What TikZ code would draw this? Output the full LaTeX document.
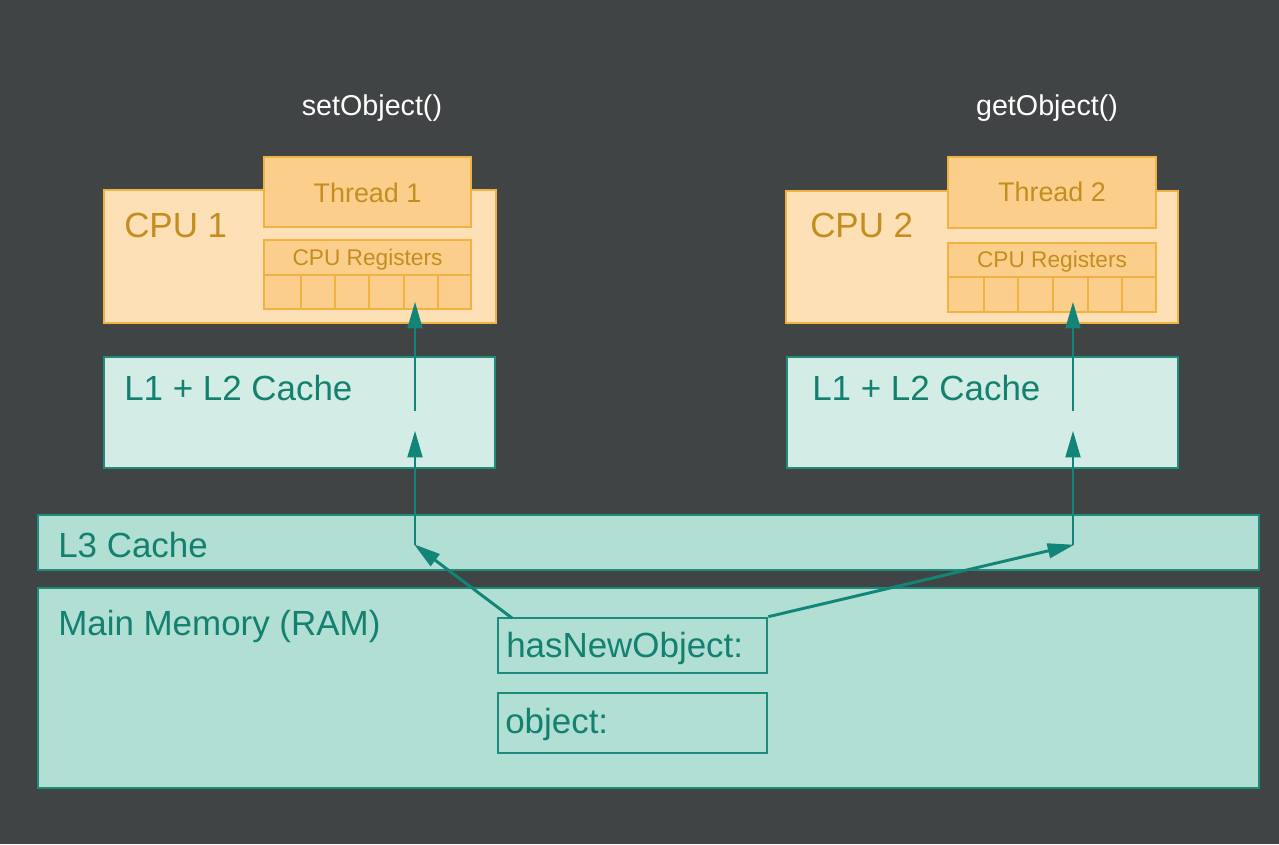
\documentclass[tikz,border=0pt]{standalone}
\usepackage{fontspec}
\setmainfont{Liberation Sans}
\usetikzlibrary{fit,arrows.meta}
\definecolor{bgc}{RGB}{64,68,68}
\definecolor{cpufill}{RGB}{253,224,182}
\definecolor{cpuline}{RGB}{240,178,64}
\definecolor{thrfill}{RGB}{252,206,140}
\definecolor{cputext}{RGB}{196,142,30}
\definecolor{cachefill}{RGB}{211,236,230}
\definecolor{memfill}{RGB}{177,223,212}
\definecolor{tealline}{RGB}{30,140,124}
\definecolor{tealtext}{RGB}{20,128,112}
\definecolor{arrowc}{RGB}{18,133,120}
\tikzset{
  cpubox/.style={draw=cpuline, fill=cpufill, line width=2pt, inner sep=0pt},
  thrbox/.style={draw=cpuline, fill=thrfill, line width=2pt, inner sep=0pt},
  cellbox/.style={draw=cpuline, fill=thrfill, line width=1.6pt, inner sep=0pt},
  cachebox/.style={draw=tealline, fill=cachefill, line width=2pt, inner sep=0pt},
  membox/.style={draw=tealline, fill=memfill, line width=2pt, inner sep=0pt},
  bigtxt/.style={font=\fontsize{26.2}{30}\selectfont, inner sep=0pt, anchor=base west},
  thrtxt/.style={font=\fontsize{20.2}{24}\selectfont, inner sep=0pt, anchor=base, text=cputext},
  regtxt/.style={font=\fontsize{17}{20}\selectfont, inner sep=0pt, anchor=base, text=cputext},
  calltxt/.style={font=\fontsize{21.5}{25}\selectfont, inner sep=0pt, anchor=base, text=white},
  arr/.style={draw=arrowc, line width=2.2pt, -{Triangle[length=20pt,width=11pt]}, shorten >=-1pt}
}
\begin{document}
\begin{tikzpicture}[x=0.75pt,y=-0.75pt]
\fill[bgc] (0,0) rectangle (1279,844);
\useasboundingbox (0,0) rectangle (1279,844);

% call labels
\node[calltxt] (set) at (372,115) {setObject()};
\node[calltxt] (get) at (1047,115) {getObject()};

% CPU 1
\node[cpubox, fit={(104,190) (496,323)}] (cpu1) {};
\node[thrbox, fit={(264,157) (471,227)}] (thr1) {};
\node[cellbox, fit={(264,240) (471,275)}] (reg1) {};
\foreach \a/\b [count=\i] in {264/301,301/335,335/369,369/404,404/438,438/471}
  \node[cellbox, fit={(\a,275) (\b,309)}] (r1c\i) {};
\node[bigtxt, text=cputext] (cpu1t) at (124,237) {CPU 1};
\node[thrtxt] (thr1t) at (367.5,202) {Thread 1};
\node[regtxt] (reg1t) at (367.5,265) {CPU Registers};

% CPU 2
\node[cpubox, fit={(786,191) (1178,323)}] (cpu2) {};
\node[thrbox, fit={(948,157) (1156,228)}] (thr2) {};
\node[cellbox, fit={(948,243) (1156,277)}] (reg2) {};
\foreach \a/\b [count=\i] in {948/984,984/1018,1018/1053,1053/1088,1088/1122,1122/1156}
  \node[cellbox, fit={(\a,277) (\b,312)}] (r2c\i) {};
\node[bigtxt, text=cputext] (cpu2t) at (810,237) {CPU 2};
\node[thrtxt] (thr2t) at (1052,201) {Thread 2};
\node[regtxt] (reg2t) at (1052,267) {CPU Registers};

% L1 + L2 caches
\node[cachebox, fit={(104,357) (495,468)}] (c1) {};
\node[cachebox, fit={(787,357) (1178,468)}] (c2) {};
\node[bigtxt, text=tealtext] (c1t) at (124,400) {L1 + L2 Cache};
\node[bigtxt, text=tealtext] (c2t) at (812,400) {L1 + L2 Cache};

% L3 and main memory
\node[membox, fit={(38,515) (1259,570)}] (l3) {};
\node[bigtxt, text=tealtext] (l3t) at (58,557) {L3 Cache};
\node[membox, fit={(38,588) (1259,788)}] (ram) {};
\node[bigtxt, text=tealtext] (ramt) at (58,635) {Main Memory (RAM)};

\node[membox, fit={(498,618) (767,673)}] (hno) {};
\node[bigtxt, text=tealtext] (hnot) at (506,657) {hasNewObject:};
\node[membox, fit={(498,693) (767,753)}] (obj) {};
\node[bigtxt, text=tealtext] (objt) at (505,733) {object:};

% arrows
\coordinate (s1) at (512,618);
\coordinate (k1) at (415,545);
\coordinate (m1) at (415,432);
\coordinate (n1) at (415,411);
\coordinate (t1) at (415,303);
\coordinate (k2) at (1073,545);
\coordinate (m2) at (1073,432);
\coordinate (n2) at (1073,411);
\coordinate (t2) at (1073,303);

\draw[arr] (s1) -- (k1);
\draw[arr] (k1) -- (m1);
\draw[arr] (n1) -- (t1);
\draw[arr] (hno.north east) -- (k2);
\draw[arr] (k2) -- (m2);
\draw[arr] (n2) -- (t2);
\end{tikzpicture}
\end{document}
